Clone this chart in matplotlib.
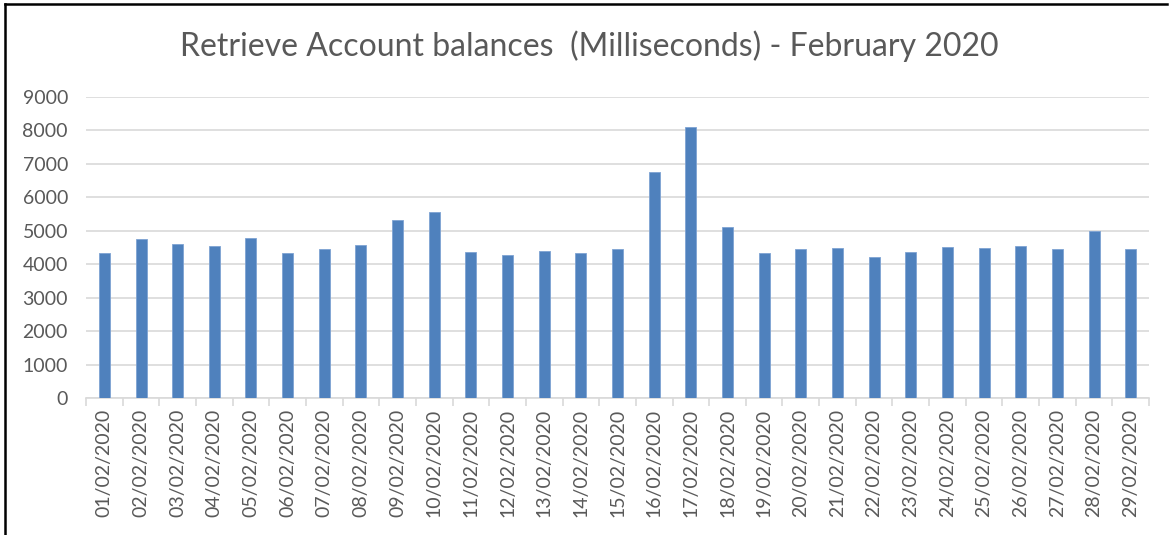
import matplotlib
matplotlib.use("Agg")
import matplotlib.pyplot as plt
from matplotlib.lines import Line2D
import numpy as np

# Data
days = ["%02d/02/2020" % d for d in range(1, 30)]
response_ms = [4340, 4750, 4610, 4530, 4780, 4340, 4460, 4560, 5330, 5550,
               4380, 4290, 4400, 4340, 4460, 6760, 8110, 5120, 4340, 4440,
               4470, 4230, 4360, 4500, 4480, 4530, 4440, 5000, 4460]
y_ticks = list(range(0, 10000, 1000))

plt.rcParams['font.family'] = ['Lato', 'DejaVu Sans']
text_col = "#595959"
grid_col = "#d9d9d9"

fig = plt.figure(figsize=(11.69, 5.35), dpi=100)
ax = fig.add_axes([0.0736, 0.2561, 0.9093, 0.5626])

x = np.arange(len(days))
ax.bar(x, response_ms, width=0.3, color="#4F81BD", edgecolor="#7EA3D3",
       linewidth=0.6, zorder=3)

ax.set_xlim(-0.5, len(days) - 0.5)
ax.set_ylim(0, 9000)
ax.set_yticks(y_ticks)
ax.set_yticklabels([str(v) for v in y_ticks])
ax.set_xticks(x)
ax.set_xticklabels(days, rotation=90)
ax.set_xticks(np.arange(-0.5, len(days), 1), minor=True)

ax.tick_params(axis='x', which='major', length=0, pad=8,
               labelsize=14, labelcolor=text_col)
ax.tick_params(axis='x', which='minor', length=6, color=grid_col, width=1.2)
ax.tick_params(axis='y', length=0, pad=13, labelsize=14, labelcolor=text_col)

ax.grid(axis='y', color=grid_col, linewidth=1.2, zorder=0)
for s in ['top', 'right', 'left']:
    ax.spines[s].set_visible(False)
ax.spines['bottom'].set_color(grid_col)
ax.spines['bottom'].set_linewidth(1.2)

fig.text(0.504, 0.913, "Retrieve Account balances  (Milliseconds) - February 2020",
         ha='center', va='center', fontsize=23, color=text_col)

# chart frame (left and top edges visible in the reference)
fig.add_artist(Line2D([0.004, 0.004], [0, 0.993], transform=fig.transFigure,
                      color='black', linewidth=1.8))
fig.add_artist(Line2D([0.004, 0.998], [0.993, 0.993], transform=fig.transFigure,
                      color='black', linewidth=1.8))

fig.savefig("out.png", dpi=100)
